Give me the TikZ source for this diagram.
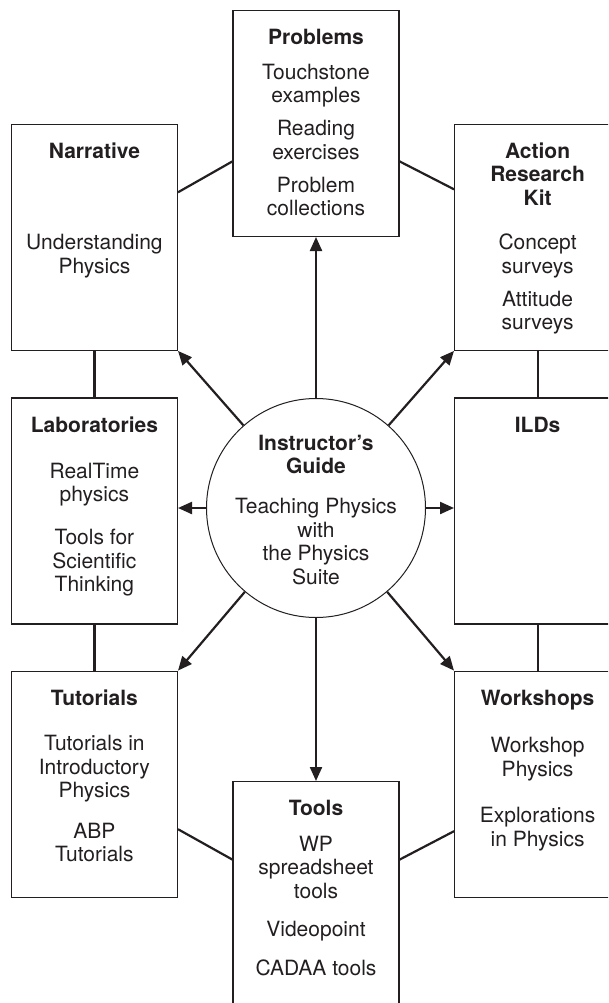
\documentclass[tikz,border=0pt]{standalone}
\usepackage{fontspec}
\setmainfont{TeX Gyre Heros}
\usetikzlibrary{arrows.meta, positioning}

\definecolor{ink}{RGB}{35,31,32}

% fixed-size panel: heading baseline sits 34pt below the top edge
\newcommand{\panelbody}[1]{\parbox[c][226pt][t]{166pt}{\centering\rule{0pt}{34pt}#1}}

\begin{document}
\begin{tikzpicture}[
    x=1pt, y=-1pt,
    font=\fontsize{21pt}{23.5pt}\selectfont,
    panel/.style={draw=ink, line width=1.2pt, inner sep=0pt, text=ink},
    hub/.style={draw=ink, circle, line width=1pt, minimum size=219pt, inner sep=0pt},
    hubtext/.style={align=center, text=ink},
    link/.style={draw=ink, line width=2.2pt},
    arr/.style={-{Triangle[length=14pt, width=12pt]}, draw=ink, line width=2.2pt},
]
    \path[use as bounding box, clip] (0,0) rectangle (608,1003);

    %==================== HUB ====================
    \node[hub] (guide) at (316,508) {};
    \node[hubtext] (guidetxt) at (316,510)
        {\textbf{Instructor's}\\\textbf{Guide}\\[16.5pt]Teaching Physics\\with\\the Physics\\Suite};

    %==================== MIDDLE ROW ====================
    \node[panel, left=28pt of guide, yshift=-3pt] (labs)
        {\panelbody{\textbf{Laboratories}\\[22.5pt]RealTime\\physics\\[19.5pt]Tools for\\Scientific\\Thinking}};
    \node[panel, right=28pt of guide, yshift=-3pt] (ilds)
        {\panelbody{\textbf{ILDs}}};

    %==================== UPPER ROW ====================
    \node[panel, above=46.5pt of labs] (narr)
        {\panelbody{\textbf{Narrative}\\[68pt]Understanding\\Physics}};
    \node[panel, above=46.5pt of ilds] (act)
        {\panelbody{\textbf{Action}\\\textbf{Research}\\\textbf{Kit}\\[21pt]Concept\\surveys\\[9.5pt]Attitude\\surveys}};
    \node[panel, above=161pt of guide] (prob)
        {\panelbody{\textbf{Problems}\\[11.5pt]Touchstone\\examples\\[9.5pt]Reading\\exercises\\[9.5pt]Problem\\collections}};

    %==================== LOWER ROW ====================
    \node[panel, below=46pt of labs] (tut)
        {\panelbody{\textbf{Tutorials}\\[22pt]Tutorials in\\Introductory\\Physics\\[17pt]ABP\\Tutorials}};
    \node[panel, below=46pt of ilds] (work)
        {\panelbody{\textbf{Workshops}\\[24pt]Workshop\\Physics\\[23pt]Explorations\\in Physics}};
    \node[panel, below=163pt of guide] (tools)
        {\panelbody{\textbf{Tools}\\[12pt]WP\\spreadsheet\\tools\\[14.5pt]Videopoint\\[15.5pt]CADAA tools}};

    %==================== plain links round the ring ====================
    \draw[link] ([yshift=45pt]narr.east) -- ([yshift=-38pt]prob.west);
    \draw[link] ([yshift=-38pt]prob.east) -- ([yshift=48pt]act.west);
    \draw[link] (narr) -- (labs);
    \draw[link] (labs) -- (tut);
    \draw[link] (act) -- (ilds);
    \draw[link] (ilds) -- (work);
    \draw[link] ([yshift=-45pt]tut.east) -- ([yshift=35pt]tools.west);
    \draw[link] ([yshift=35pt]tools.east) -- ([yshift=-47pt]work.west);

    %==================== arrows out of the hub ====================
    \draw[arr] (guide) -- (prob);
    \draw[arr] (guide) -- (tools);
    \draw[arr] (guide.west) -- (guide.west -| labs.east);
    \draw[arr] (guide.east) -- (guide.east -| ilds.west);
    \draw[arr] (guide) -- (narr.south east);
    \draw[arr] (guide) -- (act.south west);
    \draw[arr] (guide) -- (tut.north east);
    \draw[arr] (guide) -- (work.north west);

\end{tikzpicture}
\end{document}
